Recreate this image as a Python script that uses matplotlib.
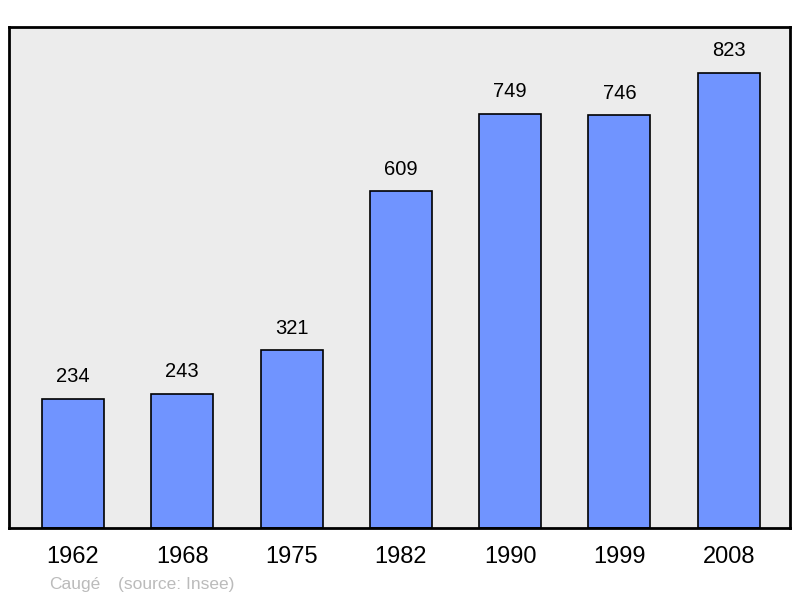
import matplotlib.pyplot as plt

years = ['1962', '1968', '1975', '1982', '1990', '1999', '2008']
population = [234, 243, 321, 609, 749, 746, 823]

plt.rcParams['font.family'] = ['Liberation Sans', 'DejaVu Sans']

fig = plt.figure(figsize=(8, 5.98), dpi=100)
ax = fig.add_axes([9 / 800, 1 - 528 / 598, 781 / 800, 501 / 598])
ax.set_facecolor('#ececec')

x = range(len(years))
bars = ax.bar(x, population, width=0.567, color='#7094ff',
              edgecolor='black', linewidth=1.2)
for xi, v in zip(x, population):
    ax.annotate(str(v), (xi, v), xytext=(0, 9), textcoords='offset points',
                ha='center', va='bottom', fontsize=14.5)

ax.set_xlim(-0.585, 6.56)
ax.set_ylim(0, 906)
ax.set_yticks([])
ax.set_xticks(list(x))
ax.set_xticklabels(years, fontsize=17)
ax.tick_params(axis='x', length=0, pad=13)
for s in ax.spines.values():
    s.set_linewidth(2)

fig.text(49 / 800, 1 - 584 / 598, 'Caugé', color='#bbbbbb', fontsize=12.5, va='center')
fig.text(118 / 800, 1 - 584 / 598, '(source: Insee)', color='#bbbbbb', fontsize=12.5, va='center')

fig.savefig('out.png', dpi=100)
